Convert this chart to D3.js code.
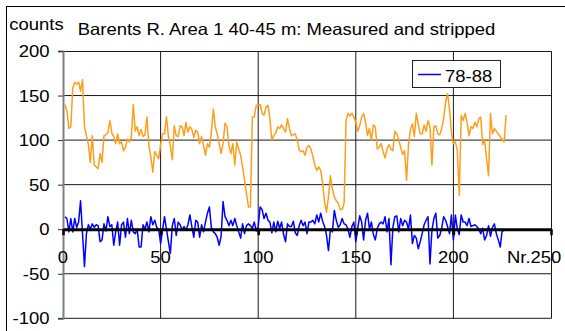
<!DOCTYPE html>
<html><head><meta charset="utf-8">
<script src="https://cdn.jsdelivr.net/npm/d3@7"></script>
<style>body{margin:0;background:#fff}svg{display:block}text{font-family:"Liberation Sans",Arial,sans-serif;fill:#000}</style>
</head><body><svg id="c" width="565" height="331"></svg>
<script>
const chartTitle = "Barents R. Area 1 40-45 m: Measured and stripped";
const yTitle = "counts";
const seriesName = "78-88";
const xTicks = [0, 50, 100, 150, 200, 250];
const xTickLabels = ["0", "50", "100", "150", "200", "Nr.250"];
const yTicks = [-100, -50, 0, 50, 100, 150, 200];
// measured (orange), channel numbers 1..227
const measured = [140,133,113,115,158,165,163,165,155,168,115,105,95,75,105,72,70,68,85,75,
105,106,108,122,108,104,96,107,96,98,88,92,101,98,103,140,110,115,105,112,
104,106,126,94,81,64,87,83,79,95,107,107,126,104,94,78,116,105,104,116,
115,105,120,109,115,112,103,111,109,96,104,94,83,96,92,109,135,115,107,96,
85,96,119,115,94,85,96,72,98,90,83,70,55,40,25,25,126,126,139,139,
140,130,128,137,139,124,100,105,108,115,113,117,113,109,124,113,105,106,107,100,
89,87,88,83,92,94,90,82,72,66,70,66,52,30,19,36,60,45,36,32,
29,22,22,29,122,130,127,130,126,120,110,116,126,130,120,105,113,100,117,115,
90,92,96,87,80,90,95,90,88,110,107,101,92,84,88,55,95,112,118,104,
130,118,107,107,117,110,122,115,72,115,116,107,106,113,124,143,152,135,108,96,
98,88,38,128,122,130,120,105,115,113,120,115,124,126,95,100,79,60,130,107,
113,110,107,104,100,98,128];
// stripped 78-88 (blue)
const stripped = [14,12,-3,12,-3,12,2,8,32,-5,-42,-5,5,0,6,2,5,4,-14,-12,
6,-2,14,3,5,-18,-3,8,-18,5,8,-9,12,-5,10,-3,-5,0,-20,-20,
5,0,8,-3,14,5,10,2,0,-16,-1,14,0,-14,-27,4,12,-7,8,5,
-1,3,-1,5,16,3,-9,10,8,-9,5,-3,8,18,25,2,-3,-5,-9,-18,
-8,31,14,10,4,10,4,12,4,-3,-10,6,-5,4,6,4,1,8,-2,3,
25,22,12,18,10,8,-4,8,-3,9,1,8,-6,-14,6,3,3,9,-4,-7,
4,10,4,8,-5,8,8,10,6,16,8,18,9,3,-7,-24,0,-3,21,10,
2,5,12,6,5,0,-9,3,8,-14,1,15,8,-12,10,18,0,8,-6,-12,
1,6,8,6,14,-3,12,-40,2,14,15,-3,12,4,10,8,0,16,-16,-7,
-10,-22,-14,-5,5,10,14,-39,-1,12,18,-10,-7,1,14,10,3,-5,16,-12,
16,0,-6,16,8,8,4,12,3,4,5,3,0,-5,1,-12,-7,4,-8,2,
6,-5,-12,-20,-1,-2];

const svg = d3.select("#c");
const L = 63, R = 551, T = 51, B = 318.3;
const x = d3.scaleLinear().domain([0, 250]).range([L, R]);
const y = d3.scaleLinear().domain([-100, 200]).range([B, T]);
const FS = 16.5, SX = 1.12;

function txt(px, py, s, anchor) {
  return svg.append("text")
    .attr("transform", `translate(${px},${py}) scale(${SX},1)`)
    .attr("text-anchor", anchor || "start")
    .attr("font-size", FS)
    .text(s);
}

// outer chart border
svg.append("rect").attr("x", 6.5).attr("y", 6.5).attr("width", 700).attr("height", 500)
  .attr("fill", "#fff").attr("stroke", "#000").attr("stroke-width", 1);

// gridlines
const grid = svg.append("g").attr("stroke", "#1a1a1a").attr("stroke-width", 1);
yTicks.filter(v => v !== 0 && v !== -100 && v !== 200).forEach(v => {
  grid.append("line").attr("x1", L).attr("x2", R).attr("y1", y(v)).attr("y2", y(v));
});
xTicks.filter(v => v !== 0 && v !== 250).forEach(v => {
  grid.append("line").attr("x1", x(v)).attr("x2", x(v)).attr("y1", T).attr("y2", B);
});
// plot border (top, right, bottom)
grid.append("path").attr("fill", "none")
  .attr("d", `M${L},${T + 0.5}H${R + 0.5}V${B}H${L}`);

// y axis
const yAxis = svg.append("g").attr("transform", `translate(${L},0)`)
  .call(d3.axisLeft(y).tickValues(yTicks).tickSize(5).tickFormat(""));
yAxis.select(".domain").attr("stroke", "#808080").attr("stroke-width", 2);
yAxis.selectAll(".tick line").attr("stroke", "#333").attr("stroke-width", 1);
yTicks.forEach(v => txt(49.5, y(v) + 6, String(v), "end"));

// series
const line = d3.line().x((d, i) => x(i + 1)).y(d => y(d));
svg.append("path").datum(measured).attr("d", line)
  .attr("fill", "none").attr("stroke", "#FF9E1A").attr("stroke-width", 1.5).attr("stroke-linejoin", "round");
svg.append("path").datum(stripped).attr("d", line)
  .attr("fill", "none").attr("stroke", "#0000FF").attr("stroke-width", 1.5).attr("stroke-linejoin", "round");

// x axis at zero
const xAxis = svg.append("g").attr("transform", `translate(0,${y(0)})`)
  .call(d3.axisBottom(x).tickValues(xTicks).tickSize(6).tickSizeOuter(0).tickFormat(""));
xAxis.select(".domain").attr("stroke", "#000").attr("stroke-width", 3);
xAxis.selectAll(".tick line").attr("stroke", "#000").attr("stroke-width", 2.5);
xTicks.forEach((v, i) => {
  if (i === xTicks.length - 1) txt(507, 263, xTickLabels[i], "start");
  else txt(x(v), 263, xTickLabels[i], "middle");
});

// titles
txt(9.3, 30, yTitle, "start");
txt(77.7, 35, chartTitle, "start");

// legend
const lg = svg.append("g");
lg.append("rect").attr("x", 412.5).attr("y", 60.5).attr("width", 88).attr("height", 27)
  .attr("fill", "#fff").attr("stroke", "#222").attr("stroke-width", 1);
lg.append("line").attr("x1", 418).attr("x2", 441).attr("y1", 74.5).attr("y2", 74.5)
  .attr("stroke", "#0000FF").attr("stroke-width", 1.5);
txt(445, 82, seriesName, "start");
</script></body></html>
